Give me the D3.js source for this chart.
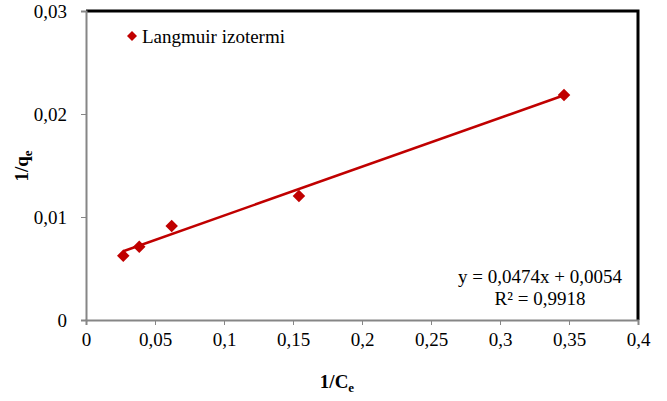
<!DOCTYPE html>
<html>
<head>
<meta charset="utf-8">
<script src="https://cdn.jsdelivr.net/npm/d3@7"></script>
<style>
  body { margin: 0; background: #fff; }
</style>
</head>
<body>
<svg id="chart" width="667" height="401"></svg>
<script>
// measured points (1/Ce, 1/qe)
const xs = [0.0270, 0.0386, 0.0621, 0.1543, 0.3464]
const ys = [0.00624, 0.00712, 0.00913, 0.01204, 0.02184]
const xTicks = [0, 0.05, 0.1, 0.15, 0.2, 0.25, 0.3, 0.35, 0.4]
const yTicks = [0, 0.01, 0.02, 0.03]
const slope = 0.0474, intercept = 0.0054
const seriesName = 'Langmuir izotermi'
const eqLabel = 'y = 0,0474x + 0,0054'
const r2Label = 'R² = 0,9918'

const red = '#c00000'
const serif = '"Liberation Serif"'
const svg = d3.select('#chart')
const m = { left: 86, top: 11, right: 638, bottom: 320 }

const x = d3.scaleLinear().domain([0, 0.4]).range([m.left, m.right])
const y = d3.scaleLinear().domain([0, 0.03]).range([m.bottom, m.top])

const fmt = d => String(d).replace('.', ',')

// frame (top/right black)
svg.append('path')
  .attr('d', `M${m.left},${m.top}H${m.right}V${m.bottom}`)
  .attr('fill', 'none').attr('stroke', '#000').attr('stroke-width', 3)

let xAxis = svg.append('g')
  .attr('transform', `translate(0,${m.bottom})`)
  .call(d3.axisBottom(x).tickValues(xTicks).tickFormat(fmt).tickSize(5).tickPadding(8))
let yAxis = svg.append('g')
  .attr('transform', `translate(${m.left},0)`)
  .call(d3.axisLeft(y).tickValues(yTicks).tickFormat(fmt).tickSize(5).tickPadding(14))

;[xAxis, yAxis].forEach(a => {
  a.select('.domain').attr('stroke', '#868686').attr('stroke-width', 2)
  a.selectAll('.tick line').attr('stroke', '#868686').attr('stroke-width', 1)
  a.selectAll('text').attr('font-size', 19).attr('fill', '#000')
})

// trend line
let x0 = d3.min(xs), x1 = d3.max(xs)
svg.append('line')
  .attr('x1', x(x0)).attr('y1', y(slope * x0 + intercept))
  .attr('x2', x(x1)).attr('y2', y(slope * x1 + intercept))
  .attr('stroke', red).attr('stroke-width', 2.5)

const diamond = d3.symbol().type(d3.symbolDiamond2).size(100)

svg.append('g').selectAll('path')
  .data(xs.map((d, i) => [d, ys[i]]))
  .enter().append('path')
  .attr('d', diamond)
  .attr('transform', d => `translate(${x(d[0])},${y(d[1])})`)
  .attr('fill', red)

// legend
svg.append('path').attr('d', d3.symbol().type(d3.symbolDiamond2).size(64))
  .attr('transform', 'translate(132,36)').attr('fill', red)
svg.append('text').attr('x', 142).attr('y', 43).attr('font-size', 19).text(seriesName)

// equation
svg.append('text').attr('x', 540).attr('y', 283).attr('text-anchor', 'middle')
  .attr('font-size', 19).text(eqLabel)
svg.append('text').attr('x', 540).attr('y', 305).attr('text-anchor', 'middle')
  .attr('font-size', 19).text(r2Label)

// axis titles
let xt = svg.append('text').attr('x', 337).attr('y', 388).attr('text-anchor', 'middle')
  .attr('font-size', 19).attr('font-weight', 'bold')
xt.append('tspan').text('1/C')
xt.append('tspan').attr('font-size', 13).attr('dy', 4).text('e')

let yt = svg.append('text').attr('transform', 'translate(28,166) rotate(-90)')
  .attr('text-anchor', 'middle').attr('font-size', 19).attr('font-weight', 'bold')
yt.append('tspan').text('1/q')
yt.append('tspan').attr('font-size', 13).attr('dy', 4).text('e')

svg.selectAll('text').style('font-family', serif).attr('fill', '#000')
</script>
</body>
</html>
